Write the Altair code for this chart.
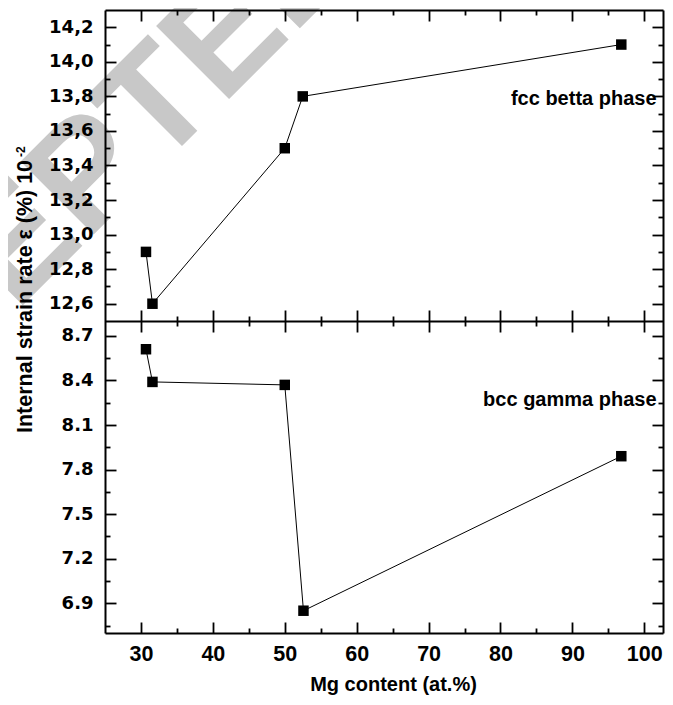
import altair as alt
import pandas as pd

# ---------------- data ----------------
mg_fcc = [30.7, 31.6, 50.0, 52.5, 96.8]
strain_fcc = [12.90, 12.60, 13.50, 13.80, 14.10]

mg_bcc = [30.7, 31.6, 50.0, 52.6, 96.8]
strain_bcc = [8.61, 8.39, 8.37, 6.85, 7.89]

x_major = [30, 40, 50, 60, 70, 80, 90, 100]
x_ticks = [30, 35, 40, 45, 50, 55, 60, 65, 70, 75, 80, 85, 90, 95, 100]
fcc_major = [12.6, 12.8, 13.0, 13.2, 13.4, 13.6, 13.8, 14.0, 14.2]
fcc_ticks = [12.6, 12.7, 12.8, 12.9, 13.0, 13.1, 13.2, 13.3, 13.4, 13.5,
             13.6, 13.7, 13.8, 13.9, 14.0, 14.1, 14.2]
bcc_major = [6.9, 7.2, 7.5, 7.8, 8.1, 8.4, 8.7]
bcc_ticks = [6.75, 6.9, 7.05, 7.2, 7.35, 7.5, 7.65, 7.8, 7.95, 8.1, 8.25,
             8.4, 8.55, 8.7]

x_title = "Mg content (at.%)"
y_title = "Internal strain rate ε (%) 10"
y_title_exp = "-2"
fcc_label = "fcc betta phase"
bcc_label = "bcc gamma phase"
watermark = "ACCEPTED MANUSCRIPT"

# ---------------- layout ----------------
W, H, MID = 558, 623, 311
X_DOMAIN = [25, 102.6]
fcc_lo, fcc_hi = 12.5, 14.3
bcc_lo, bcc_hi = 6.7, 8.8
fcc_domain = [fcc_hi - (fcc_hi - fcc_lo) * H / MID, fcc_hi]
bcc_domain = [bcc_lo, bcc_lo + (bcc_hi - bcc_lo) * H / (H - MID)]
FONT = "Liberation Sans"
YFONT = "DejaVu Sans"

df_fcc = pd.DataFrame({"mg": mg_fcc, "strain": strain_fcc})
df_bcc = pd.DataFrame({"mg": mg_bcc, "strain": strain_bcc})
df_fcc_lab = pd.DataFrame({"mg": [101.7], "strain": [13.75], "label": [fcc_label]})
df_bcc_lab = pd.DataFrame({"mg": [101.7], "strain": [8.228], "label": [bcc_label]})


def ax(**kw):
    base = dict(grid=False, zindex=1, domain=False, labels=False, ticks=False,
                title=None, domainColor="black", tickColor="black",
                domainWidth=2, tickWidth=1.8, labelFont=FONT,
                labelFontWeight="bold", labelColor="black", titleFont=FONT,
                titleFontWeight="bold", titleColor="black", labelOverlap=False,
                labelFlush=False, labelBound=False)
    base.update(kw)
    return alt.Axis(**base)


x_size = {"condition": {"test": "datum.value % 10 === 0", "value": 11}, "value": 5}
fcc_size = {"condition": {"test": "round(datum.value * 10) % 2 === 0", "value": 11}, "value": 5}
bcc_size = {"condition": {"test": "round(datum.value * 100) % 30 === 0", "value": 11}, "value": 5}

xscale = alt.Scale(domain=X_DOMAIN, nice=False, zero=False)
fscale = alt.Scale(domain=fcc_domain, nice=False, zero=False)
bscale = alt.Scale(domain=bcc_domain, nice=False, zero=False)


def X(axis):
    return alt.X("mg:Q", scale=xscale, axis=axis)


def YF(axis):
    return alt.Y("strain:Q", scale=fscale, axis=axis)


def YB(axis):
    return alt.Y("strain:Q", scale=bscale, axis=axis)


# axes
x_lab_axis = ax(orient="bottom", values=x_major, labels=True, domain=True,
                tickSize=0, labelPadding=10, labelFontSize=21.5,
                title=x_title, titleFontSize=20, titleBaseline="alphabetic",
                titleY=57, titleX=288, titleAlign="center")
x_bottom_in = ax(orient="top", offset=-H, values=x_ticks, ticks=True, tickSize=x_size)
x_top_in = ax(orient="bottom", offset=-H, values=x_ticks, ticks=True, tickSize=x_size, domain=True)
x_mid_up = ax(orient="top", offset=-MID, values=x_ticks, ticks=True, tickSize=x_size, domain=True)
x_mid_down = ax(orient="bottom", offset=-(H - MID), values=x_ticks, ticks=True, tickSize=x_size)

f_lab_axis = ax(orient="left", values=fcc_major, labels=True, domain=True, tickSize=0,
                labelPadding=12, labelFontSize=18, labelFont=YFONT,
                labelExpr="replace(format(datum.value, '.1f'), '.', ',')")
f_left_in = ax(orient="right", offset=-W, values=fcc_ticks, ticks=True, tickSize=fcc_size)
f_right_in = ax(orient="left", offset=-W, values=fcc_ticks, ticks=True, tickSize=fcc_size, domain=True)

b_lab_axis = ax(orient="left", values=bcc_major, labels=True, tickSize=0,
                labelPadding=12, labelFontSize=18, labelFont=YFONT, format=".1f")
b_left_in = ax(orient="right", offset=-W, values=bcc_ticks, ticks=True, tickSize=bcc_size)
b_right_in = ax(orient="left", offset=-W, values=bcc_ticks, ticks=True, tickSize=bcc_size)

# watermark and y title
wm = alt.Chart(pd.DataFrame({"t": [watermark]})).mark_text(
    angle=315, align="left", baseline="alphabetic", fontSize=150, font=FONT,
    fontWeight="bold", color="#c8c8c8").encode(
    x=alt.value(-319), y=alt.value(532), text="t:N")

ytitle = alt.Chart(pd.DataFrame({"t": [y_title]})).mark_text(
    angle=270, align="left", baseline="alphabetic", fontSize=21.5, font=FONT,
    fontWeight="bold", color="black").encode(
    x=alt.value(-73), y=alt.value(423), text="t:N")

yexp = alt.Chart(pd.DataFrame({"t": [y_title_exp]})).mark_text(
    angle=270, align="left", baseline="alphabetic", fontSize=12, font=FONT,
    fontWeight="bold", color="black").encode(
    x=alt.value(-80), y=alt.value(147), text="t:N")

# top panel (fcc)
t1 = alt.Chart(df_fcc).mark_line(color="black", strokeWidth=1).encode(
    x=X(x_lab_axis), y=YF(f_lab_axis))
t2 = alt.Chart(df_fcc).mark_point(shape="square", filled=True, size=110,
                                  color="black", opacity=1).encode(
    x=X(x_bottom_in), y=YF(f_left_in))
t3 = alt.Chart(df_fcc_lab).mark_text(align="right", baseline="alphabetic",
                                     fontSize=20, font=FONT, fontWeight="bold",
                                     color="black").encode(
    x=X(x_top_in), y=YF(f_right_in), text="label:N")

# bottom panel (bcc)
b1 = alt.Chart(df_bcc).mark_line(color="black", strokeWidth=1).encode(
    x=X(x_mid_up), y=YB(b_lab_axis))
b2 = alt.Chart(df_bcc).mark_point(shape="square", filled=True, size=110,
                                  color="black", opacity=1).encode(
    x=X(x_mid_down), y=YB(b_left_in))
b3 = alt.Chart(df_bcc_lab).mark_text(align="right", baseline="alphabetic",
                                     fontSize=20, font=FONT, fontWeight="bold",
                                     color="black").encode(
    x=alt.X("mg:Q", scale=xscale, axis=None), y=YB(b_right_in), text="label:N")

chart = alt.layer(wm, ytitle, yexp, t1, t2, t3, b1, b2, b3).resolve_scale(
    x="independent", y="independent").resolve_axis(
    x="independent", y="independent").properties(
    width=W, height=H,
    autosize=alt.AutoSizeParams(type="none"),
    padding={"left": 97, "top": 2, "right": 2, "bottom": 64},
).configure_view(stroke=None)

chart.save("out.html", embed_options={"renderer": "svg", "actions": False})
